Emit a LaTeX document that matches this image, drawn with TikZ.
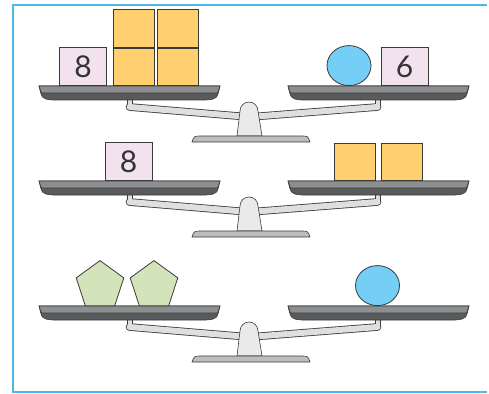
\documentclass[tikz,border=0pt]{standalone}
\usepackage{fontspec}
\setmainfont{Lato}
\usepackage{xcolor}
\usepackage{tikz}
\usetikzlibrary{shapes.geometric,positioning}

\definecolor{framecol}{RGB}{75,185,232}
\definecolor{pantop}{RGB}{140,142,143}
\definecolor{panbot}{RGB}{88,90,92}
\definecolor{edgecol}{RGB}{58,58,58}
\definecolor{beamcol}{RGB}{222,223,224}
\definecolor{postcol}{RGB}{234,234,234}
\definecolor{basecol}{RGB}{188,189,190}
\definecolor{pinkfill}{RGB}{242,226,238}
\definecolor{orangefill}{RGB}{255,207,112}
\definecolor{bluefill}{RGB}{116,206,245}
\definecolor{greenfill}{RGB}{212,228,186}

\tikzset{
    numbox/.style={draw=edgecol, fill=pinkfill, line width=0.8pt, minimum width=47pt, minimum height=38pt,
        inner sep=0pt, anchor=south, text=black!80, font=\fontsize{30}{30}\selectfont},
    unitbox/.style={draw=edgecol, fill=orangefill, line width=0.8pt, minimum width=41pt, minimum height=37.5pt,
        inner sep=0pt, anchor=south},
    ball/.style={draw=edgecol, fill=bluefill, line width=0.8pt, ellipse, minimum width=44pt, minimum height=40pt,
        inner sep=0pt, anchor=south},
    pent/.style={draw=edgecol, fill=greenfill, line width=0.8pt, regular polygon, regular polygon sides=5,
        minimum size=50pt, inner sep=0pt},
    part/.style={draw=edgecol, line width=0.6pt}
}

\begin{document}
\begin{tikzpicture}[x=1pt, y=-1pt]
    \useasboundingbox (0,0) rectangle (489,393);
    % Frame
    \draw[framecol, line width=2pt] (487,5) -- (12.5,5) -- (12.5,392) -- (487,392);
    % Three balances, pan top at \y
    \foreach \y in {86,181,306} {
        % beam and stems
        \draw[edgecol, line width=7.6pt, line join=round, line cap=round] (129.5,\y+21) -- (249.5,\y+31) -- (377.5,\y+21);
        \foreach \x in {0,248} \filldraw[part, fill=beamcol] (\x+127,\y+13) rectangle (\x+132,\y+21);
        \draw[beamcol, line width=6pt, line join=round, line cap=round] (129.5,\y+21) -- (249.5,\y+31) -- (377.5,\y+21);
        \foreach \x in {0,248} \fill[beamcol] (\x+127.5,\y+14) rectangle (\x+131.5,\y+22);
        % pans
        \foreach \x in {0,249} {
            \filldraw[part, fill=panbot] (\x+39,\y) -- (\x+220,\y) .. controls (\x+217,\y+13) .. (\x+206,\y+14)
                -- (\x+53,\y+14) .. controls (\x+42,\y+13) .. cycle;
            \filldraw[part, fill=pantop] (\x+39,\y) -- (\x+220,\y) -- (\x+217.5,\y+7) -- (\x+41.5,\y+7) -- cycle;
        }
        % post and base
        \filldraw[part, fill=postcol] (237,\y+50) -- (240,\y+25) arc[start angle=180, end angle=360, radius=9]
            -- (262,\y+50) -- cycle;
        \filldraw[part, fill=basecol] (192,\y+56) .. controls (194,\y+50) .. (202,\y+50) -- (300,\y+50)
            .. controls (308,\y+50) .. (310,\y+56) -- cycle;
    }
    % Balance 1
    \node[numbox] (eightA) at (83,86) {8};
    \node[unitbox] (unitA) at (133.5,86) {};
    \node[unitbox, right=3pt of unitA] (unitB) {};
    \node[unitbox, above=0pt of unitA] (unitC) {};
    \node[unitbox, above=0pt of unitB] (unitD) {};
    \node[ball] (ballA) at (349,86) {};
    \node[numbox] (six) at (404.5,86) {6};
    % Balance 2
    \node[numbox] (eightB) at (128.5,181) {8};
    \node[unitbox] (unitE) at (355,181) {};
    \node[unitbox, right=5pt of unitE] (unitF) {};
    % Balance 3
    \node[pent] (pentA) at (100,285.6) {};
    \node[pent] (pentB) at (154,285.6) {};
    \node[ball] (ballB) at (377.5,306) {};
\end{tikzpicture}
\end{document}
